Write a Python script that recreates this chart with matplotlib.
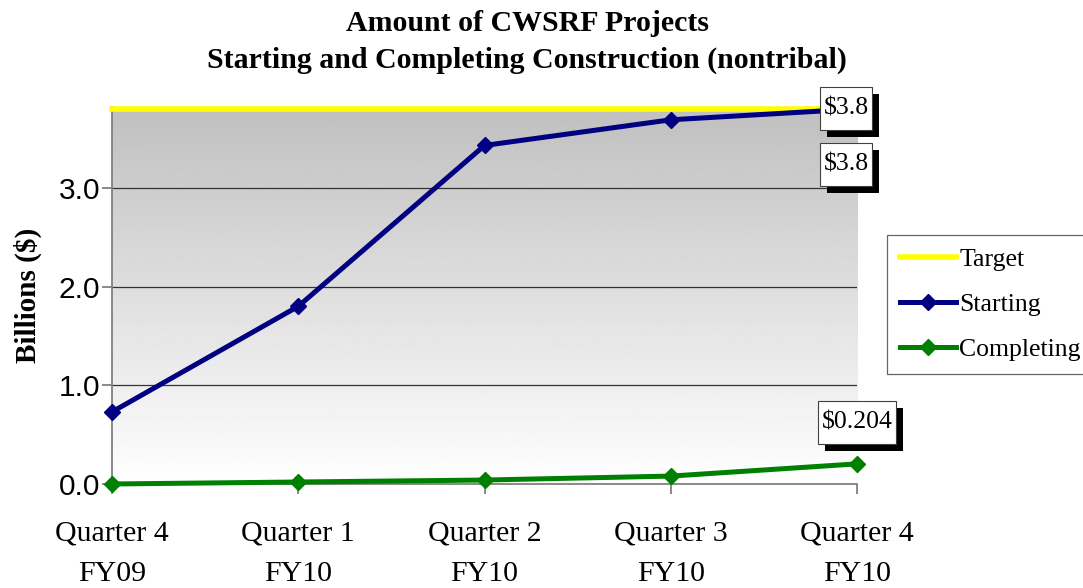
import matplotlib.pyplot as plt
import matplotlib.patheffects as pe
from matplotlib.path import Path
import numpy as np

quarters = ["Quarter 4\nFY09", "Quarter 1\nFY10", "Quarter 2\nFY10", "Quarter 3\nFY10", "Quarter 4\nFY10"]
target = [3.8, 3.8, 3.8, 3.8, 3.8]
starting = [0.73, 1.80, 3.43, 3.69, 3.80]
completing = [0.0, 0.02, 0.04, 0.08, 0.204]
y_ticks = [0.0, 1.0, 2.0, 3.0]

serif = "Liberation Serif"
sans = "Liberation Sans"


def tall_box(x0, y0, width, height, mutation_size):
    # square box with more room above/below the text than at the sides
    padx = 0.14 * mutation_size
    pady = 0.41 * mutation_size
    x0, y0 = x0 - padx, y0 - pady
    x1, y1 = x0 + width + 2 * padx, y0 + height + 2 * pady
    return Path([(x0, y0), (x1, y0), (x1, y1), (x0, y1), (x0, y0)], closed=True)


fig = plt.figure(figsize=(10.83, 5.88), dpi=100, facecolor="white")
ax = fig.add_axes([0.1034, 0.1769, 0.6880, 0.6412])

x = np.arange(len(quarters))
ymax = 3.82
xmax = len(quarters) - 1

# gray (top) to white (bottom) plot area
grad = np.linspace(0.75, 1.0, 256).reshape(-1, 1)
ax.imshow(grad, cmap="gray", vmin=0, vmax=1, aspect="auto",
          extent=[0, xmax, 0, ymax], origin="upper", zorder=0)
ax.set_xlim(0, xmax)
ax.set_ylim(0, ymax)

for yv in y_ticks[1:]:
    ax.axhline(yv, color="#333333", linewidth=0.9, zorder=1)

ax.plot(x, target, color="#ffff00", linewidth=4, label="Target", zorder=3, clip_on=False)
ax.plot(x, starting, color="#000080", linewidth=3.6, marker="D", markersize=8,
        label="Starting", zorder=4, clip_on=False)
ax.plot(x, completing, color="#008000", linewidth=3.6, marker="D", markersize=8,
        label="Completing", zorder=4, clip_on=False)

for side in ["top", "right"]:
    ax.spines[side].set_visible(False)
for side in ["left", "bottom"]:
    ax.spines[side].set_color("#808080")
    ax.spines[side].set_linewidth(1.3)

ax.set_xticks(x)
ax.set_xticklabels(quarters, fontfamily=serif, fontsize=21.5, linespacing=1.75)
ax.set_yticks(y_ticks)
ax.set_yticklabels([f"{v:.1f}" for v in y_ticks], fontfamily=sans, fontsize=21.5)
ax.tick_params(axis="both", direction="out", length=7.2, color="#808080", width=1.3)
ax.tick_params(axis="x", pad=19)
ax.tick_params(axis="y", pad=1.5)

ax.set_ylabel("Billions ($)", fontfamily=serif, fontsize=21, fontweight="bold", labelpad=12)
fig.text(0.487, 0.929, "Amount of CWSRF Projects\nStarting and Completing Construction (nontribal)",
         ha="center", va="center", fontfamily=serif, fontsize=21.5, fontweight="bold",
         linespacing=1.45)

shadow = [pe.withSimplePatchShadow(offset=(5, -5), shadow_rgbFace="black", alpha=1.0)]
labels = [
    (target[-1], "$3.8", (-8, 0)),
    (starting[-1], "$3.8", (-8, -40)),
    (completing[-1], "$0.204", (0, 30)),
]
for yv, txt, off in labels:
    t = ax.annotate(txt, xy=(x[-1], yv), xytext=off, textcoords="offset points",
                    ha="center", va="center", fontfamily=serif, fontsize=18.5,
                    bbox=dict(boxstyle=tall_box, facecolor="white",
                              edgecolor="#404040", linewidth=0.8),
                    zorder=6, annotation_clip=False)
    t.get_bbox_patch().set_path_effects(shadow)

leg = fig.legend(loc="upper left", bbox_to_anchor=(0.819, 0.600), frameon=True,
                 fancybox=False, edgecolor="#404040", prop={"family": serif, "size": 18.5},
                 handlelength=2.2, handletextpad=0.12, labelspacing=0.85, borderpad=0.5,
                 borderaxespad=0)
leg.get_frame().set_linewidth(0.9)

fig.savefig("out.png", dpi=100)
